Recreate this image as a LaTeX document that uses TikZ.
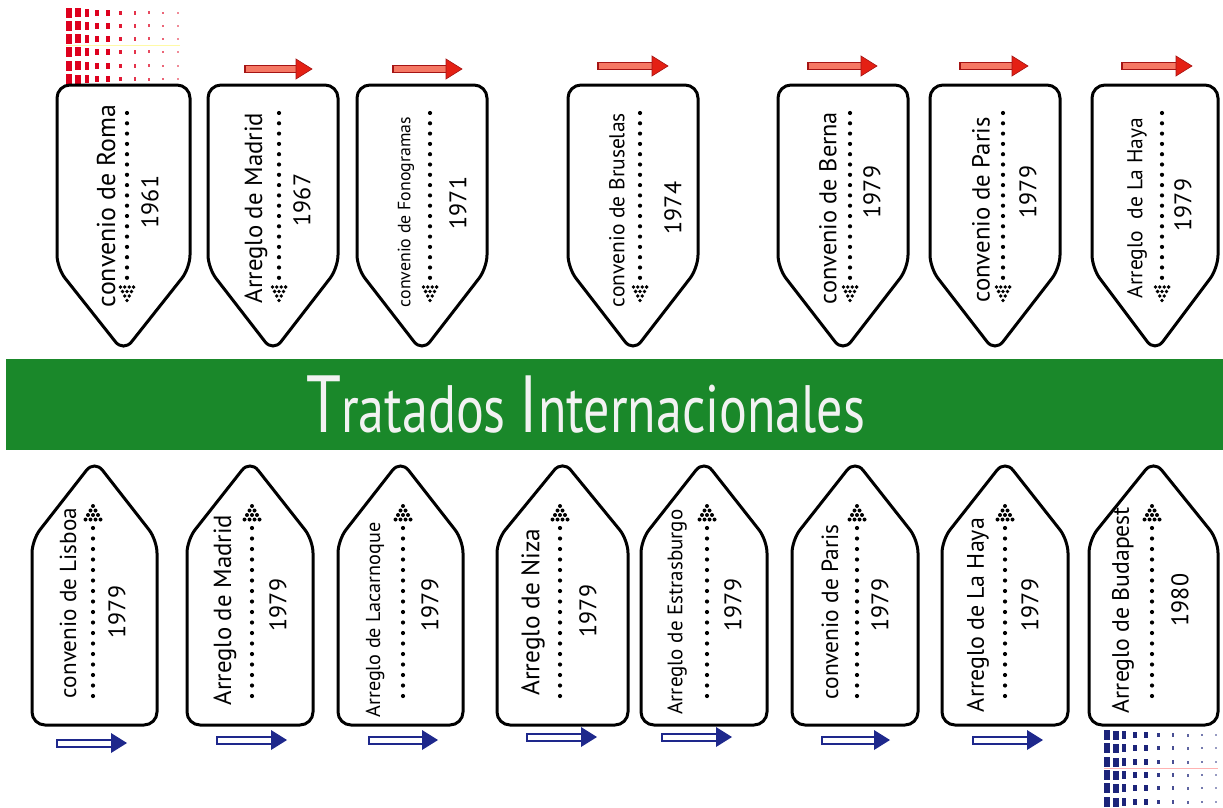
\documentclass[tikz,border=0pt]{standalone}
\usepackage{fontspec}
\setmainfont{PT Sans}
\usepackage{graphicx}
\definecolor{bandgreen}{RGB}{26,136,42}
\definecolor{sqred}{RGB}{222,0,30}
\definecolor{sqblue}{RGB}{28,36,122}
\definecolor{arrred}{RGB}{228,32,20}
\definecolor{arrdark}{RGB}{165,20,20}
\definecolor{arrlight}{RGB}{245,120,100}
\definecolor{arrblue}{RGB}{30,40,140}
\definecolor{titlewhite}{RGB}{242,242,242}
\tikzset{
  card/.style={draw=black, line width=3pt, rounded corners=13pt, fill=white},
  lbl/.style={rotate=90, inner sep=0pt, anchor=center},
  yr/.style={rotate=90, inner sep=0pt, anchor=center, font=\fontsize{24}{24}\selectfont},
}
\newcommand\topcard[3]{%
  \draw[card] (#2,180) -- (#2,85) -- (#3,85) -- (#3,268) -- ({(#2+#3)/2},352) -- (#2,268) -- cycle;}
\newcommand\botcard[3]{%
  \draw[card] (#2,640) -- (#2,540) -- ({(#2+#3)/2},460) -- (#3,540) -- (#3,725) -- (#2,725) -- cycle;}
\newcommand\topdots[1]{%
  \foreach \yy in {113,123.3,...,281} \fill (#1,\yy) circle[radius=2.1];
  \foreach \dx in {-6.6,-2.2,2.2,6.6} \fill (#1+\dx,287) circle[radius=1.9];
  \foreach \dx in {-4.4,0,4.4} \fill (#1+\dx,291.5) circle[radius=1.9];
  \foreach \dx in {-2.2,2.2} \fill (#1+\dx,296) circle[radius=1.9];
  \fill (#1,300.5) circle[radius=1.9];}
\newcommand\botdots[1]{%
  \fill (#1,506) circle[radius=2];
  \foreach \dx in {-2.5,2.5} \fill (#1+\dx,510.5) circle[radius=2];
  \foreach \dx in {-5,0,5} \fill (#1+\dx,515) circle[radius=2];
  \foreach \dx in {-7.5,-2.5,2.5,7.5} \fill (#1+\dx,519.5) circle[radius=2];
  \foreach \yy in {528,538.5,...,696} \fill (#1,\yy) circle[radius=2.1];}
\newcommand\redarrow[3]{%
  \filldraw[fill=arrlight, draw=arrdark, line width=1.2pt] (#1,#3-3.5) rectangle (#2-15,#3+3.5);
  \filldraw[fill=arrred, draw=arrdark, line width=0.6pt] (#2-16,#3-10) -- (#2,#3) -- (#2-16,#3+10) -- cycle;}
\newcommand\bluearrow[3]{%
  \filldraw[fill=white, draw=arrblue, line width=2pt] (#1,#3-3.5) rectangle (#2-15,#3+3.5);
  \fill[arrblue] (#2-16,#3-10) -- (#2,#3) -- (#2-16,#3+10) -- cycle;}
\newcommand\lab[2]{\resizebox{#1pt}{!}{#2}}
\begin{document}
\begin{tikzpicture}[x=1pt,y=-1pt]
\useasboundingbox (0,0) rectangle (1223,808);
\fill[white] (0,0) rectangle (1223,808);
% red squares
\foreach \cx/\w/\h/\op in {69/6/10/1, 78/5.5/9/1, 87/4.5/8/1, 97/4/6.5/1, 108/3.5/5.5/1, 120/3/4.5/0.9, 135/2.5/3.5/0.8, 149/2/3/0.7, 163/2/2.5/0.6, 178/2/2.5/0.45}
  \foreach \cy in {13,26,39,52,66,79}
    \fill[sqred, opacity=\op] (\cx-\w/2,\cy-\h/2) rectangle (\cx+\w/2,\cy+\h/2);
\draw[yellow!35, line width=0.8] (66,45) -- (180,45);
% blue squares
\foreach \cx/\w/\h/\op in {1107/6/10/1, 1116/5.5/9/1, 1124/4.5/8/1, 1135/4/6.5/1, 1146/3.5/5.5/1, 1158/3/4.5/0.9, 1173/2.5/3.5/0.8, 1188/2/3/0.7, 1202/2/2.5/0.6, 1216/2/2.5/0.45}
  \foreach \cy in {735,748,762,775,788,802}
    \fill[sqblue, opacity=\op] (\cx-\w/2,\cy-\h/2) rectangle (\cx+\w/2,\cy+\h/2);
\draw[red!30, line width=0.8] (1104,768) -- (1218,768);
% band
\fill[bandgreen] (6,359) rectangle (1223,450);
\node[text=titlewhite, anchor=base west, inner sep=0pt] (title) at (306,432)
  {\resizebox{559pt}{\height}{\fontsize{81}{81}\selectfont T\fontsize{67}{67}\selectfont ratados \fontsize{81}{81}\selectfont I\fontsize{67}{67}\selectfont nternacionales}};
% top arrows
\redarrow{245}{312}{69}
\redarrow{393}{462}{69}
\redarrow{598}{668}{66}
\redarrow{808}{877}{66}
\redarrow{960}{1028}{66}
\redarrow{1122}{1192}{66}
% top cards
\topcard{c1}{57}{190}
\topcard{c2}{208}{338}
\topcard{c3}{357}{487}
\topcard{c4}{568}{698}
\topcard{c5}{778}{908}
\topcard{c6}{930}{1060}
\topcard{c7}{1092}{1218}
\topdots{127}\topdots{279}\topdots{430}\topdots{640}\topdots{850}\topdots{1003}\topdots{1162}
\node[lbl] (t1) at (106,206) {\lab{202}{convenio de Roma}};
\node[yr] (y1) at (150,202) {1961};
\node[lbl] (t2) at (256,208) {\lab{190}{Arreglo de Madrid}};
\node[yr] (y2) at (302,200) {1967};
\node[lbl] (t3) at (406,212) {\lab{190}{convenio de Fonogramas}};
\node[yr] (y3) at (458,203) {1971};
\node[lbl] (t4) at (617,210) {\lab{194}{convenio de Bruselas}};
\node[yr] (y4) at (673,208) {1974};
\node[lbl] (t5) at (828,208) {\lab{192}{convenio de Berna}};
\node[yr] (y5) at (872,192) {1979};
\node[lbl] (t6) at (981,210) {\lab{185}{convenio de Paris}};
\node[yr] (y6) at (1028,192) {1979};
\node[lbl] (t7) at (1137,208) {\lab{180}{Arreglo\ \ de La Haya}};
\node[yr] (y7) at (1183,205) {1979};
% bottom cards
\botcard{d1}{32}{157}
\botcard{d2}{187}{313}
\botcard{d3}{338}{463}
\botcard{d4}{497}{628}
\botcard{d5}{641}{767}
\botcard{d6}{792}{918}
\botcard{d7}{942}{1068}
\botcard{d8}{1089}{1218}
\botdots{93}\botdots{252}\botdots{403}\botdots{560}\botdots{707}\botdots{857}\botdots{1005}\botdots{1152}
\node[lbl] (b1) at (68,603) {\lab{190}{convenio de Lisboa}};
\node[yr] (z1) at (117,612) {1979};
\node[lbl] (b2) at (225,610) {\lab{190}{Arreglo de Madrid}};
\node[yr] (z2) at (278,605) {1979};
\node[lbl] (b3) at (375,620) {\lab{195}{Arreglo de Lacarnoque}};
\node[yr] (z3) at (430,605) {1979};
\node[lbl] (b4) at (533,612) {\lab{167}{Arreglo de Niza}};
\node[yr] (z4) at (588,611) {1979};
\node[lbl] (b5) at (677,612) {\lab{205}{Arreglo de Estrasburgo}};
\node[yr] (z5) at (733,605) {1979};
\node[lbl] (b6) at (830,612) {\lab{175}{convenio de Paris}};
\node[yr] (z6) at (880,605) {1979};
\node[lbl] (b7) at (978,615) {\lab{194}{Arreglo de La Haya}};
\node[yr] (z7) at (1030,605) {1979};
\node[lbl] (b8) at (1123,610) {\lab{206}{Arreglo de Budapest}};
\node[yr] (z8) at (1180,600) {1980};
% bottom arrows
\bluearrow{57}{127}{743}
\bluearrow{217}{287}{740}
\bluearrow{369}{438}{740}
\bluearrow{527}{597}{737}
\bluearrow{662}{732}{737}
\bluearrow{822}{890}{740}
\bluearrow{973}{1043}{740}
\end{tikzpicture}
\end{document}
